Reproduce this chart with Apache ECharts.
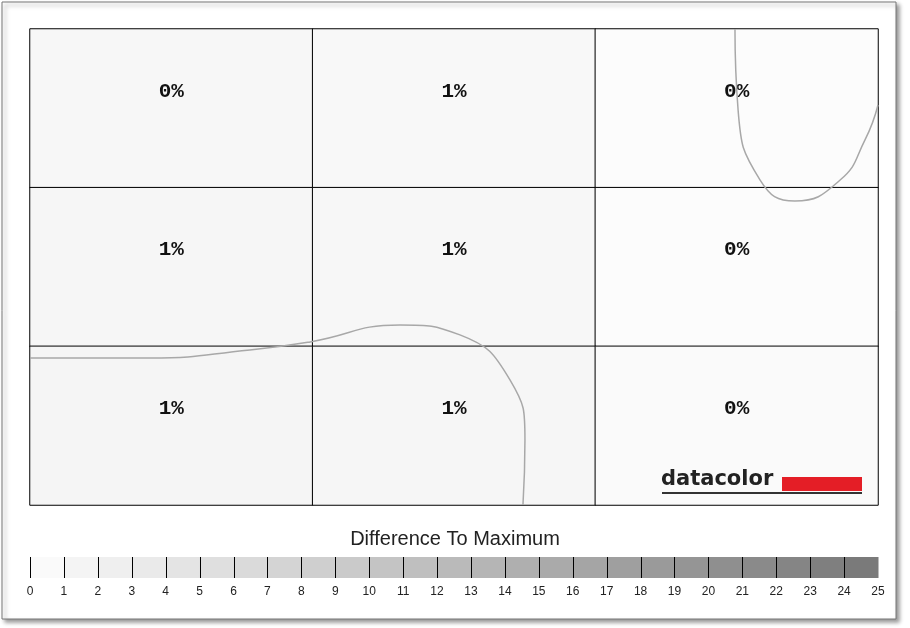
<!DOCTYPE html>
<html><head><meta charset="utf-8">
<script src="https://cdn.jsdelivr.net/npm/echarts@6/dist/echarts.min.js"></script>
<style>html,body{margin:0;padding:0;background:#fff}#c{width:910px;height:628px}</style>
</head><body><div id="c"></div>
<script>
const cols = ['0','1','2'];
const rows = ['0','1','2'];
const cellValues = [ [0,1,0], [1,1,0], [1,1,0] ]; // rows top->bottom
const cellShades = [ ['#f7f7f7','#f8f8f8','#fcfcfc'], ['#f6f6f6','#f7f7f7','#fcfcfc'], ['#f5f5f5','#f6f6f6','#fafafa'] ];
const contour1X = [2.494,2.505,2.583,2.706,2.866,2.954,3.0];
const contour1Y = [0,0.510,0.952,1.084,0.952,0.699,0.479];
const contour2X = [0,0.425,0.778,0.991,1.309,1.521,1.698,1.751,1.744];
const contour2Y = [2.073,2.073,2.023,1.972,1.865,1.928,2.212,2.590,3.0];
const scaleTicks = Array.from({length:26},(_,i)=>i);
const scaleSegments = Array.from({length:25},(_,i)=>i);

const heat = [];
for (let r=0;r<3;r++) for (let c=0;c<3;c++)
  heat.push({value:[c,r,cellValues[r][c]], itemStyle:{color:cellShades[r][c]}});

const chart = echarts.init(document.getElementById('c'));
chart.setOption({
  animation:false,
  backgroundColor:'#fff',
  graphic:[
    {type:'rect',z:-10,shape:{x:2,y:2,width:894,height:617},style:{fill:'#fff',stroke:'#777',lineWidth:1,shadowBlur:4,shadowOffsetX:3,shadowOffsetY:3,shadowColor:'rgba(0,0,0,0.4)'}},
    {type:'text',z:10,left:661,top:469,style:{text:'datacolor',font:'bold 21px "DejaVu Sans"',fill:'#222'}},
    {type:'rect',z:10,shape:{x:782,y:477,width:80,height:14},style:{fill:'#e41e26'}},
    {type:'rect',z:10,shape:{x:662,y:492,width:200,height:2},style:{fill:'#333'}},
    {type:'text',left:'center',top:529,style:{text:'Difference To Maximum',font:'20px "Liberation Sans"',fill:'#222'}}
  ],
  grid:[
    {left:30,top:29,width:848,height:476},
    {left:30,top:557,width:848,height:21}
  ],
  xAxis:[
    {type:'category',data:cols,gridIndex:0,show:false},
    {type:'value',gridIndex:0,min:0,max:3,show:false},
    {type:'value',gridIndex:1,min:0,max:25,interval:1,
     axisLine:{show:false},axisTick:{show:false},splitLine:{show:false},
     axisLabel:{color:'#222',fontSize:12,margin:8,fontFamily:'Liberation Sans'}}
  ],
  yAxis:[
    {type:'category',data:rows,gridIndex:0,inverse:true,show:false},
    {type:'value',gridIndex:0,min:0,max:3,inverse:true,show:false},
    {type:'value',gridIndex:1,min:0,max:1,show:false}
  ],
  series:[
    {type:'heatmap',xAxisIndex:0,yAxisIndex:0,data:heat,
     itemStyle:{borderColor:'#000',borderWidth:1},
     label:{show:true,formatter:p=>p.value[2]+'%',offset:[0,-17],position:'inside',
       color:'#111',fontSize:21,fontWeight:'bold',fontFamily:'Liberation Mono'},
     emphasis:{disabled:true}},
    {type:'line',xAxisIndex:1,yAxisIndex:1,smooth:true,symbol:'none',
     data:contour1X.map((x,i)=>[x,contour1Y[i]]),lineStyle:{color:'#a8a8a8',width:1.5}},
    {type:'line',xAxisIndex:1,yAxisIndex:1,smooth:true,symbol:'none',
     data:contour2X.map((x,i)=>[x,contour2Y[i]]),lineStyle:{color:'#a8a8a8',width:1.5}},
    {type:'custom',xAxisIndex:2,yAxisIndex:2,data:scaleSegments,z:1,
     renderItem:(params,api)=>{
       const i=api.value(0);
       const a=api.coord([i,1]), b=api.coord([i+1,0]);
       const g=Math.round(255-(i+1)*(255-122)/25);
       const x0=Math.round(a[0])+0.5;
       return {type:'group',children:[
         {type:'rect',shape:{x:a[0],y:a[1],width:b[0]-a[0]+0.5,height:b[1]-a[1]},style:{fill:`rgb(${g},${g},${g})`}},
         {type:'line',z2:5,shape:{x1:x0,y1:a[1],x2:x0,y2:b[1]},style:{stroke:'#000',lineWidth:1}}
       ]};
     }}
  ]
});
</script></body></html>
